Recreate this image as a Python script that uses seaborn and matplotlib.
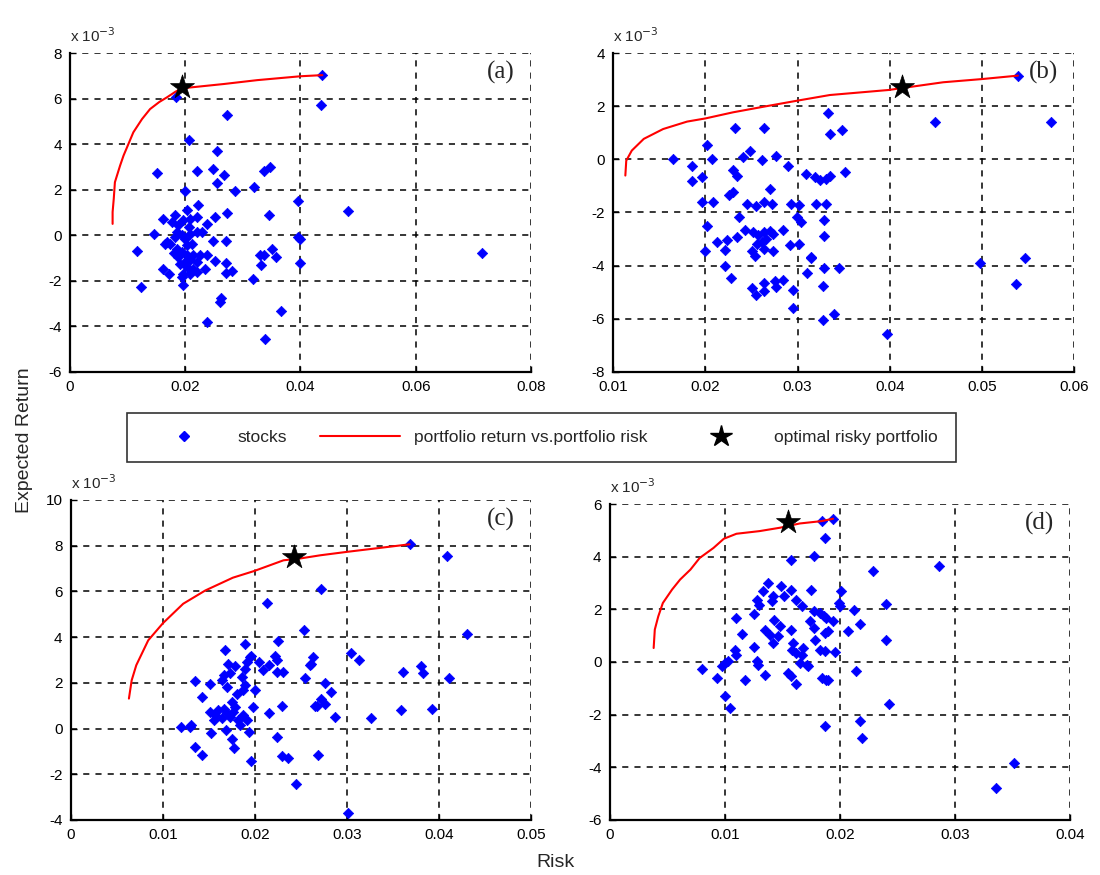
import matplotlib
matplotlib.use("Agg")
import matplotlib.pyplot as plt
from matplotlib.lines import Line2D
from matplotlib.ticker import FuncFormatter
import seaborn as sns
import pandas as pd

# ---------------- data (risk, expected return in units of 1e-3) ----------------
a_risk = [0.0184, 0.0273, 0.0207, 0.0255, 0.0151, 0.0220, 0.0248, 0.0267, 0.0255, 0.0200,
          0.0287, 0.0319, 0.0336, 0.0347, 0.0223, 0.0395, 0.0438, 0.0436, 0.0203, 0.0273,
          0.0346, 0.0162, 0.0220, 0.0238, 0.0252, 0.0145, 0.0116, 0.0249, 0.0270, 0.0238,
          0.0252, 0.0270, 0.0281, 0.0270, 0.0235, 0.0318, 0.0330, 0.0336, 0.0350, 0.0357,
          0.0332, 0.0395, 0.0399, 0.0123, 0.0197, 0.0262, 0.0261, 0.0366, 0.0238, 0.0339,
          0.0162, 0.0171, 0.0165, 0.0169, 0.0483, 0.0715, 0.0183, 0.0177, 0.0188, 0.0197,
          0.0209, 0.0206, 0.0185, 0.0194, 0.0183, 0.0200, 0.0209, 0.0220, 0.0229, 0.0212,
          0.0203, 0.0174, 0.0185, 0.0194, 0.0180, 0.0188, 0.0203, 0.0214, 0.0226, 0.0209,
          0.0200, 0.0220, 0.0191, 0.0203, 0.0214, 0.0209, 0.0197, 0.0194, 0.0220, 0.0400]
a_ret = [6.05, 5.28, 4.20, 3.69, 2.73, 2.84, 2.92, 2.63, 2.28, 1.95,
         1.94, 2.11, 2.84, 2.99, 1.31, 1.51, 7.03, 5.72, 1.09, 0.99,
         0.87, 0.73, 0.80, 0.51, 0.80, 0.07, -0.70, -0.26, -0.26, -0.85,
         -1.14, -1.21, -1.58, -1.65, -1.50, -1.93, -0.88, -0.88, -0.59, -0.95,
         -1.31, -0.07, -1.21, -2.29, -2.19, -2.77, -2.95, -3.33, -3.82, -4.55,
         -1.46, -1.68, -0.37, -0.29, 1.05, -0.77, 0.88, 0.58, 0.44, 0.66,
         0.73, 0.36, 0.14, 0.00, -0.07, -0.15, 0.07, 0.14, 0.14, -0.37,
         -0.44, -0.37, -0.59, -0.73, -0.80, -0.95, -0.88, -0.88, -0.88, -1.09,
         -1.17, -1.17, -1.24, -1.39, -1.46, -1.68, -1.68, -1.82, -1.61, -0.15]
a_front_risk = [0.0074, 0.0074, 0.0076, 0.0078, 0.0087, 0.0093, 0.0110, 0.0125, 0.0139,
                0.0155, 0.0168, 0.0183, 0.0194, 0.0267, 0.0325, 0.0400, 0.0438]
a_front_ret = [0.50, 1.02, 1.60, 2.33, 3.06, 3.50, 4.52, 5.10, 5.54,
               5.85, 6.05, 6.30, 6.45, 6.64, 6.81, 6.98, 7.03]
a_opt = (0.0194, 6.49)

b_risk = [0.0232, 0.0263, 0.0202, 0.0248, 0.0241, 0.0207, 0.0165, 0.0261, 0.0276, 0.0290,
          0.0185, 0.0185, 0.0196, 0.0230, 0.0234, 0.0270, 0.0225, 0.0230, 0.0196, 0.0208,
          0.0245, 0.0255, 0.0263, 0.0272, 0.0293, 0.0302, 0.0309, 0.0319, 0.0324, 0.0331,
          0.0320, 0.0331, 0.0333, 0.0335, 0.0348, 0.0449, 0.0575, 0.0335, 0.0351, 0.0329,
          0.0329, 0.0315, 0.0329, 0.0345, 0.0328, 0.0328, 0.0340, 0.0397, 0.0498, 0.0547,
          0.0537, 0.0539, 0.0236, 0.0202, 0.0243, 0.0234, 0.0212, 0.0223, 0.0200, 0.0221,
          0.0252, 0.0257, 0.0263, 0.0270, 0.0273, 0.0266, 0.0261, 0.0256, 0.0250, 0.0254,
          0.0263, 0.0273, 0.0284, 0.0292, 0.0301, 0.0299, 0.0304, 0.0314, 0.0310, 0.0221,
          0.0228, 0.0250, 0.0255, 0.0263, 0.0264, 0.0275, 0.0277, 0.0284, 0.0295, 0.0295]
b_ret = [1.18, 1.18, 0.55, 0.33, 0.08, 0.00, 0.00, -0.01, 0.14, -0.24,
         -0.24, -0.83, -0.68, -0.40, -0.61, -1.11, -1.36, -1.24, -1.59, -1.62,
         -1.68, -1.74, -1.62, -1.68, -1.68, -1.71, -0.55, -0.68, -0.77, -0.74,
         -1.68, -1.68, 1.73, 0.95, 1.10, 1.42, 1.42, -0.61, -0.49, -2.28,
         -2.87, -3.68, -4.08, -4.08, -4.77, -6.04, -5.81, -6.56, -3.91, -3.71,
         -4.68, 3.15, -2.18, -2.49, -2.65, -2.93, -3.12, -3.03, -3.43, -3.41,
         -2.74, -2.83, -2.74, -2.68, -2.80, -2.99, -3.12, -3.18, -3.43, -3.62,
         -3.37, -3.43, -2.65, -3.24, -3.18, -2.18, -2.37, -3.71, -4.29, -4.00,
         -4.46, -4.83, -5.09, -4.66, -4.96, -4.56, -4.79, -4.53, -4.91, -5.59]
b_front_risk = [0.0113, 0.0114, 0.0120, 0.0133, 0.0154, 0.0180, 0.0200, 0.0230, 0.0263,
                0.0300, 0.0335, 0.0399, 0.0413, 0.0458, 0.0500, 0.0539]
b_front_ret = [-0.61, -0.05, 0.33, 0.77, 1.14, 1.42, 1.54, 1.77, 1.98,
               2.21, 2.42, 2.61, 2.68, 2.90, 3.02, 3.15]
b_opt = (0.0413, 2.71)

c_risk = [0.0213, 0.0253, 0.0225, 0.0189, 0.0167, 0.0222, 0.0196, 0.0263, 0.0272, 0.0409,
          0.0431, 0.0261, 0.0304, 0.0313, 0.0254, 0.0276, 0.0283, 0.0272, 0.0276, 0.0265,
          0.0287, 0.0361, 0.0381, 0.0383, 0.0411, 0.0359, 0.0392, 0.0326, 0.0268, 0.0301,
          0.0245, 0.0368, 0.0224, 0.0171, 0.0178, 0.0191, 0.0195, 0.0189, 0.0204, 0.0209,
          0.0215, 0.0224, 0.0231, 0.0260, 0.0135, 0.0151, 0.0166, 0.0170, 0.0164, 0.0173,
          0.0186, 0.0189, 0.0187, 0.0200, 0.0180, 0.0175, 0.0178, 0.0142, 0.0198, 0.0229,
          0.0215, 0.0267, 0.0151, 0.0157, 0.0160, 0.0166, 0.0170, 0.0173, 0.0164, 0.0155,
          0.0176, 0.0182, 0.0184, 0.0191, 0.0187, 0.0120, 0.0129, 0.0131, 0.0152, 0.0169,
          0.0175, 0.0194, 0.0177, 0.0135, 0.0142, 0.0196, 0.0224, 0.0229, 0.0236]
c_ret = [5.51, 4.30, 3.83, 3.69, 3.43, 3.18, 3.18, 3.13, 6.12, 7.54,
         4.12, 2.81, 3.32, 2.99, 2.19, 1.99, 1.60, 1.31, 1.09, 0.98,
         0.51, 2.48, 2.74, 2.43, 2.19, 0.80, 0.87, 0.44, -1.14, -3.69,
         -2.44, 8.06, 2.99, 2.81, 2.73, 2.91, 3.13, 2.62, 2.91, 2.58,
         2.77, 2.48, 2.48, 2.77, 2.08, 1.97, 2.33, 1.82, 2.11, 2.41,
         2.26, 1.89, 1.68, 1.68, 1.53, 1.16, 0.95, 1.38, 0.95, 0.98,
         0.68, 0.98, 0.73, 0.58, 0.80, 0.87, 0.66, 0.51, 0.44, 0.36,
         0.73, 0.36, 0.15, 0.36, 0.58, 0.07, 0.07, 0.15, -0.19, -0.07,
         -0.44, -0.15, -0.87, -0.80, -1.17, -1.42, -0.37, -1.21, -1.31]
c_front_risk = [0.0063, 0.0066, 0.0071, 0.0084, 0.0100, 0.0122, 0.0146, 0.0176,
                0.0199, 0.0231, 0.0249, 0.0271, 0.0300, 0.0368]
c_front_ret = [1.31, 2.11, 2.77, 3.86, 4.61, 5.46, 6.04, 6.60,
               6.89, 7.36, 7.44, 7.58, 7.73, 8.06]
c_opt = (0.0242, 7.50)

d_risk = [0.0184, 0.0194, 0.0187, 0.0177, 0.0157, 0.0175, 0.0137, 0.0133, 0.0149, 0.0157,
          0.0142, 0.0128, 0.0130, 0.0141, 0.0151, 0.0162, 0.0167, 0.0177, 0.0183, 0.0188,
          0.0110, 0.0125, 0.0115, 0.0135, 0.0139, 0.0143, 0.0148, 0.0146, 0.0142, 0.0157,
          0.0125, 0.0109, 0.0110, 0.0159, 0.0158, 0.0162, 0.0167, 0.0168, 0.0172, 0.0178,
          0.0183, 0.0187, 0.0174, 0.0177, 0.0187, 0.0128, 0.0129, 0.0100, 0.0103, 0.0097,
          0.0080, 0.0093, 0.0100, 0.0104, 0.0117, 0.0135, 0.0155, 0.0157, 0.0162, 0.0171,
          0.0184, 0.0188, 0.0187, 0.0165, 0.0229, 0.0286, 0.0201, 0.0199, 0.0200, 0.0212,
          0.0240, 0.0186, 0.0194, 0.0217, 0.0190, 0.0207, 0.0240, 0.0196, 0.0214, 0.0243,
          0.0217, 0.0219, 0.0351, 0.0336, 0.0190]
d_ret = [5.35, 5.44, 4.71, 4.04, 3.89, 2.75, 3.00, 2.68, 2.87, 2.75,
         2.49, 2.37, 2.18, 2.30, 2.49, 2.37, 2.12, 1.92, 1.86, 1.67,
         1.67, 1.84, 1.08, 1.20, 1.04, 1.61, 1.35, 0.97, 0.72, 1.23,
         0.57, 0.47, 0.28, 0.72, 0.47, 0.34, 0.28, 0.53, -0.17, 0.85,
         0.47, 0.40, 1.54, 1.29, 1.10, 0.02, -0.10, -0.04, 0.02, -0.17,
         -0.25, -0.61, -1.31, -1.75, -0.67, -0.51, -0.42, -0.55, -0.84, -0.10,
         -0.61, -0.67, -2.45, -0.04, 3.44, 3.66, 2.68, 2.24, 2.11, 1.99,
         2.22, 1.73, 1.54, 1.46, 1.16, 1.16, 0.85, 0.37, -0.36, -1.60,
         -2.26, -2.89, -3.82, -4.79, -0.67]
d_front_risk = [0.0038, 0.0039, 0.0042, 0.0046, 0.0054, 0.0061, 0.0070, 0.0078, 0.0090,
                0.0099, 0.0110, 0.0130, 0.0148, 0.0165, 0.0184, 0.0194]
d_front_ret = [0.53, 1.23, 1.73, 2.24, 2.75, 3.13, 3.51, 3.95, 4.33,
               4.68, 4.87, 4.97, 5.10, 5.26, 5.35, 5.44]
d_opt = (0.0155, 5.32)

panel_labels = ["(a)", "(b)", "(c)", "(d)"]
legend_labels = ["stocks", "portfolio return vs.portfolio risk", "optimal risky portfolio"]
xlabel = "Risk"
ylabel = "Expected Return"

# ---------------- layout ----------------
sns.set_style("white")
plt.rcParams['font.family'] = ['Liberation Sans', 'DejaVu Sans']
plt.rcParams['axes.unicode_minus'] = False

fig = plt.figure(figsize=(11, 8.75), dpi=100)

panels = [
    dict(rect=[0.0636, 0.5749, 0.4191, 0.3645], risk=a_risk, ret=a_ret,
         fr=a_front_risk, fy=a_front_ret, opt=a_opt,
         xlim=(0, 0.08), xt=[0, 0.02, 0.04, 0.06, 0.08], ylim=(-6, 8), yt=range(-6, 9, 2)),
    dict(rect=[0.5576, 0.5749, 0.4188, 0.3645], risk=b_risk, ret=b_ret,
         fr=b_front_risk, fy=b_front_ret, opt=b_opt,
         xlim=(0.01, 0.06), xt=[0.01, 0.02, 0.03, 0.04, 0.05, 0.06], ylim=(-8, 4), yt=range(-8, 5, 2)),
    dict(rect=[0.0645, 0.0629, 0.4182, 0.3657], risk=c_risk, ret=c_ret,
         fr=c_front_risk, fy=c_front_ret, opt=c_opt,
         xlim=(0, 0.05), xt=[0, 0.01, 0.02, 0.03, 0.04, 0.05], ylim=(-4, 10), yt=range(-4, 11, 2)),
    dict(rect=[0.5545, 0.0629, 0.4182, 0.3611], risk=d_risk, ret=d_ret,
         fr=d_front_risk, fy=d_front_ret, opt=d_opt,
         xlim=(0, 0.04), xt=[0, 0.01, 0.02, 0.03, 0.04], ylim=(-6, 6), yt=range(-6, 7, 2)),
]

fmt = FuncFormatter(lambda v, p: "%g" % round(v, 4))

for p, lab in zip(panels, panel_labels):
    ax = fig.add_axes(p["rect"])
    df = pd.DataFrame({"risk": p["risk"], "ret": p["ret"]})
    fdf = pd.DataFrame({"risk": p["fr"], "ret": p["fy"]})
    sns.scatterplot(data=df, x="risk", y="ret", ax=ax, marker="D", s=28,
                    color="#0000FF", edgecolor="#0000FF", linewidth=0.5, zorder=3)
    sns.lineplot(data=fdf, x="risk", y="ret", ax=ax, sort=False, estimator=None,
                 color="#FF0000", linewidth=1.5, zorder=4)
    sns.scatterplot(x=[p["opt"][0]], y=[p["opt"][1]], ax=ax, marker="*", s=330,
                    color="black", edgecolor="black", linewidth=0.5, zorder=5)
    ax.set_xlim(*p["xlim"])
    ax.set_ylim(*p["ylim"])
    ax.set_xticks(p["xt"])
    ax.set_yticks(list(p["yt"]))
    ax.xaxis.set_major_formatter(fmt)
    ax.set_xlabel("")
    ax.set_ylabel("")
    ax.grid(True, color="black", linestyle=(0, (4, 4)), linewidth=1.1)
    ax.set_axisbelow(True)
    for s in ["top", "right"]:
        ax.spines[s].set_visible(False)
    for s in ["left", "bottom"]:
        ax.spines[s].set_color("black")
        ax.spines[s].set_linewidth(1.6)
    ax.tick_params(direction="in", length=4, width=1, labelsize=11, colors="black",
                   bottom=True, left=True, pad=6)
    ax.text(0.0, 1.025, r"x 10$^{-3}$", transform=ax.transAxes, fontsize=11,
            ha="left", va="bottom")
    ax.text(0.965, 0.94, lab, transform=ax.transAxes, fontsize=18,
            family="Liberation Serif", ha="right", va="center")

handles = [
    Line2D([], [], linestyle="none", marker="D", markersize=5, color="#0000FF"),
    Line2D([], [], color="#FF0000", linewidth=1.5),
    Line2D([], [], linestyle="none", marker="*", markersize=16, color="black"),
]
leg = fig.legend(handles, legend_labels, loc="center", bbox_to_anchor=(0.492, 0.5),
                 ncol=3, fontsize=12.5, frameon=True, fancybox=False, edgecolor="black",
                 handlelength=4.6, columnspacing=1.9, borderpad=1.0)
leg.get_frame().set_linewidth(1.2)

fig.text(0.022, 0.497, ylabel, rotation=90, fontsize=14, ha="center", va="center")
fig.text(0.505, 0.005, xlabel, fontsize=14, ha="center", va="bottom")

fig.savefig("out.png", dpi=100)
